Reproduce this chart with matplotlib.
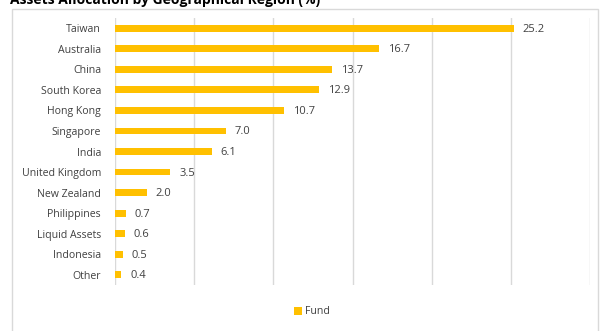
import matplotlib.pyplot as plt
from matplotlib.patches import Rectangle

# data
regions = ["Taiwan", "Australia", "China", "South Korea", "Hong Kong", "Singapore",
           "India", "United Kingdom", "New Zealand", "Philippines", "Liquid Assets",
           "Indonesia", "Other"]
fund = [25.2, 16.7, 13.7, 12.9, 10.7, 7.0, 6.1, 3.5, 2.0, 0.7, 0.6, 0.5, 0.4]
x_ticks = [0, 5, 10, 15, 20, 25, 30]

W, H = 600, 331
plt.rcParams["font.family"] = ["Open Sans", "DejaVu Sans"]

fig = plt.figure(figsize=(W / 100, H / 100), dpi=100)

# chart frame
fig.patches.append(Rectangle((12 / W, -0.1), (598 - 12) / W, 1.1 - 9 / H,
                             transform=fig.transFigure, fill=False,
                             edgecolor="#d9d9d9", linewidth=1))

# title is partly cut by the top edge, as in the source image
fig.text(10 / W, 1 - 4 / H, "Assets Allocation by Geographical Region (%)",
         fontsize=10, fontweight="bold", color="black", va="baseline", ha="left")

ax = fig.add_axes([115 / W, 1 - 285 / H, (590 - 115) / W, (285 - 18) / H])
ypos = list(range(len(regions)))
ax.barh(ypos, fund, height=0.33, color="#FFC000", label="Fund", zorder=3)
for y, v in zip(ypos, fund):
    ax.text(v + 0.55, y + 0.05, f"{v:.1f}", va="center", ha="left", fontsize=8, color="#404040")

ax.set_xlim(0, 30)
ax.set_ylim(len(regions) - 0.5, -0.5)
ax.set_xticks(x_ticks)
ax.set_xticklabels([])
ax.set_yticks(ypos)
ax.set_yticklabels(regions, fontsize=7.6, color="#404040")
ax.tick_params(length=0, pad=10)
ax.grid(axis="x", color="#d9d9d9", linewidth=1, zorder=0)
for s in ax.spines.values():
    s.set_visible(False)

fig.legend(loc="center", bbox_to_anchor=(312 / W, 1 - 312 / H), frameon=False,
           fontsize=7.6, handlelength=0.7, handleheight=0.7, handletextpad=0.3,
           labelcolor="#404040")

fig.savefig("out.png", dpi=100)
